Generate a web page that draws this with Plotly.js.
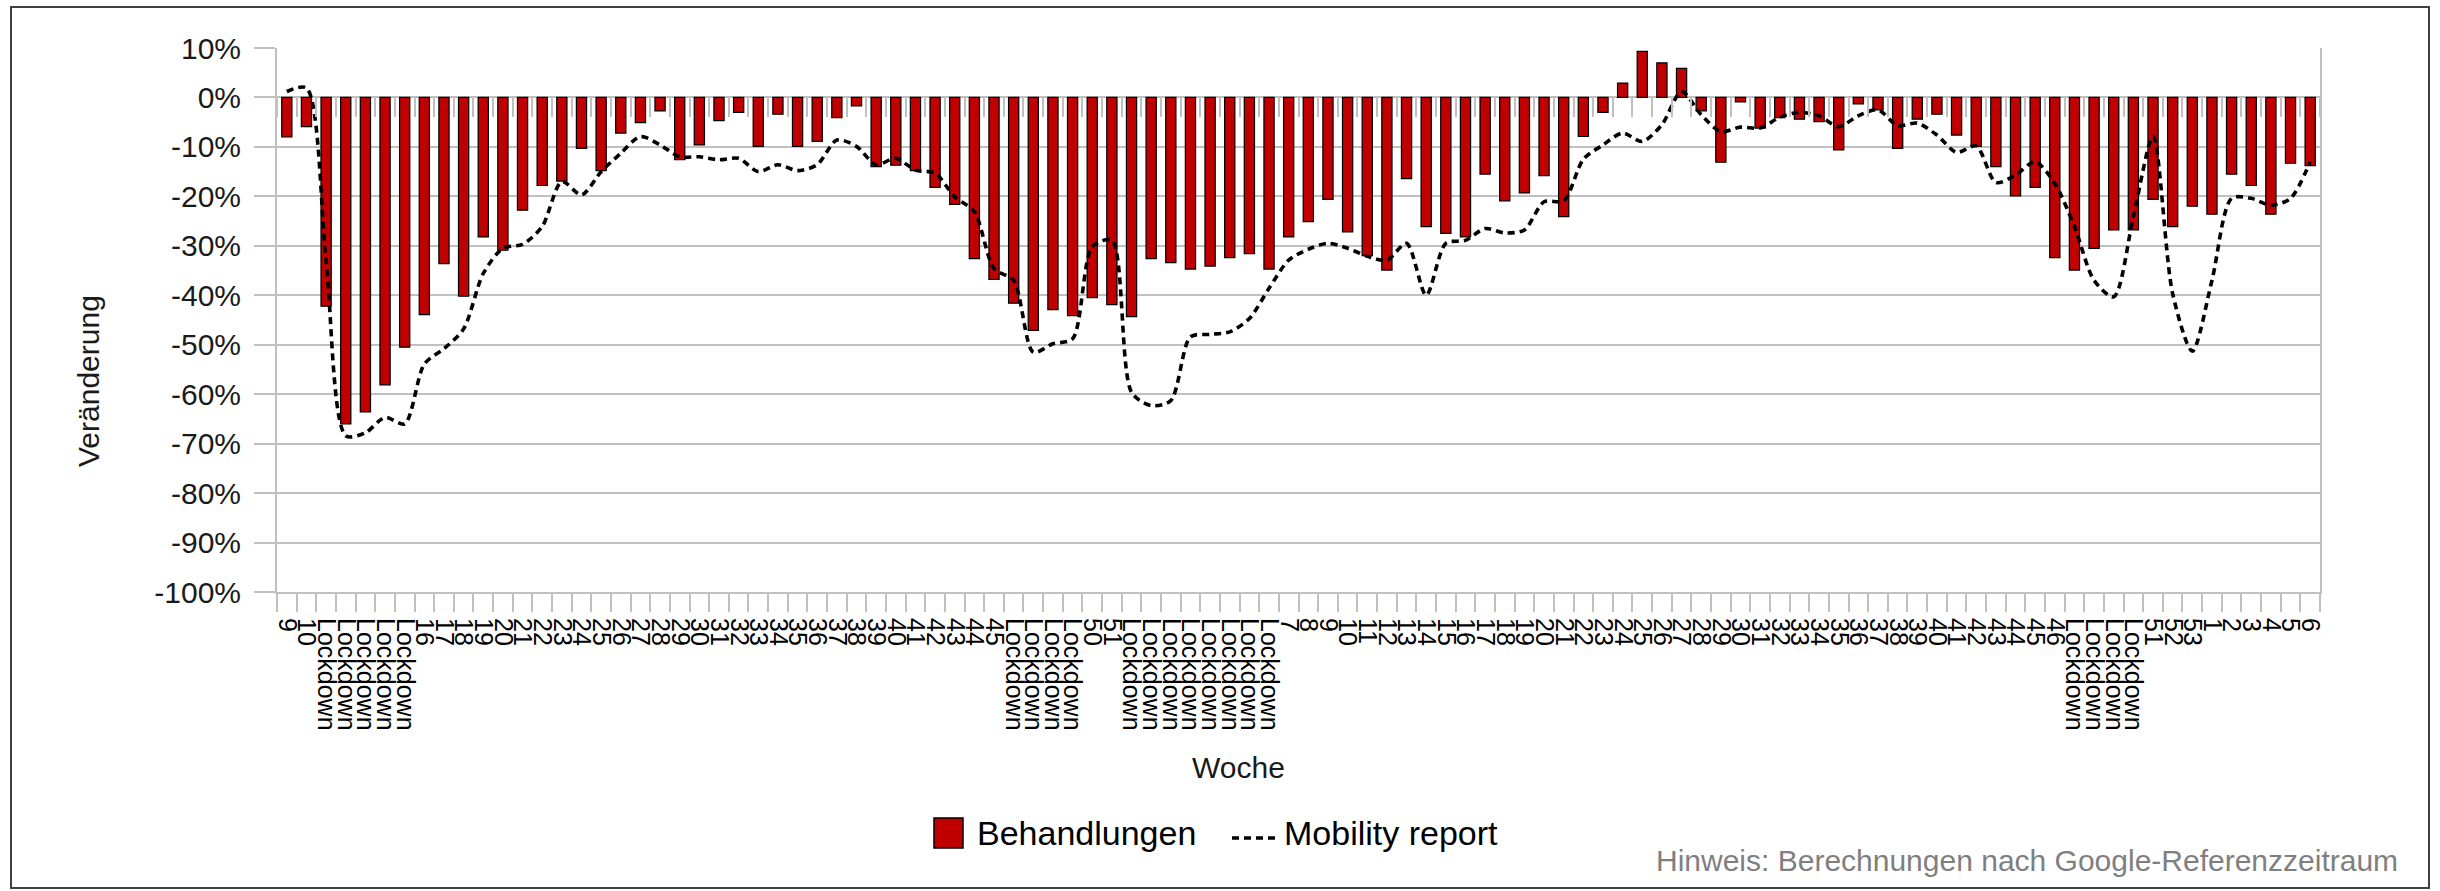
<!DOCTYPE html>
<html>
<head>
<meta charset="utf-8">
<script src="https://cdn.plot.ly/plotly-3.0.1.min.js"></script>
<style>
  body { margin: 0; background: #fff; }
  #chart { width: 2440px; height: 891px; }
  #frame {
    position: absolute; left: 10px; top: 6px; width: 2420px; height: 883px;
    box-sizing: border-box; border: 2px solid #404040; pointer-events: none;
  }
</style>
</head>
<body>
<div id="chart"></div>
<div id="frame"></div>
<script>
// Kalenderwochen (Woche 9/2020 bis Woche 6/2022)
var weeks = [
  '9', '10', 'Lockdown', 'Lockdown', 'Lockdown', 'Lockdown', 'Lockdown',
  '16', '17', '18', '19', '20', '21', '22', '23', '24', '25', '26', '27', '28', '29',
  '30', '31', '32', '33', '34', '35', '36', '37', '38', '39', '40', '41', '42', '43', '44', '45',
  'Lockdown', 'Lockdown', 'Lockdown', 'Lockdown', '50', '51',
  'Lockdown', 'Lockdown', 'Lockdown', 'Lockdown', 'Lockdown', 'Lockdown', 'Lockdown', 'Lockdown',
  '7', '8', '9', '10', '11', '12', '13', '14', '15', '16', '17', '18', '19', '20', '21', '22',
  '23', '24', '25', '26', '27', '28', '29', '30', '31', '32', '33', '34', '35', '36', '37', '38',
  '39', '40', '41', '42', '43', '44', '45', '46',
  'Lockdown', 'Lockdown', 'Lockdown', 'Lockdown', '51', '52', '53', '1', '2', '3', '4', '5', '6'
];

// Veraenderung Behandlungen in %
var behandlungen = [
  -8.0, -5.9, -42.2, -66.0, -63.6, -58.1, -50.5,
  -43.9, -33.6, -40.2, -28.2, -30.9, -22.8, -17.8, -16.9, -10.3, -14.8, -7.2, -5.1, -2.7, -12.6,
  -9.6, -4.7, -3.0, -9.9, -3.4, -9.9, -8.9, -4.1, -1.7, -14.0, -13.7, -14.8, -18.2, -21.6, -32.6, -36.8,
  -41.6, -47.1, -42.9, -44.1, -40.5, -41.9,
  -44.3, -32.6, -33.4, -34.7, -34.1, -32.4, -31.6, -34.7,
  -28.2, -25.1, -20.6, -27.2, -32.0, -34.9, -16.4, -26.1, -27.5, -28.2, -15.5, -20.9, -19.3, -15.8, -24.1, -7.9,
  -3.0, 2.9, 9.3, 7.0, 5.9, -2.7, -13.1, -0.9, -6.2, -4.1, -4.4, -4.9, -10.6, -1.3, -2.5, -10.3,
  -4.4, -3.4, -7.6, -9.9, -14.0, -19.9, -18.2, -32.4,
  -34.9, -30.5, -26.8, -26.8, -20.6, -26.1, -22.0, -23.6, -15.5, -17.8, -23.6, -13.3, -13.8
];

// Google Mobility report in %
var mobility = [
  1.2, 1.9, -33.0, -68.4, -67.8, -64.7, -66.0,
  -53.9, -50.8, -46.8, -35.6, -30.5, -29.7, -26.1, -17.0, -19.7, -15.0, -11.3, -7.9, -9.6, -12.0,
  -12.0, -12.6, -12.3, -15.0, -13.6, -14.8, -13.6, -8.6, -9.9, -13.6, -12.3, -14.7, -15.3, -20.1, -23.1, -34.6,
  -37.0, -51.5, -49.8, -48.8, -30.2, -28.9,
  -59.6, -62.3, -61.3, -48.4, -47.9, -47.4, -44.7, -38.6,
  -32.9, -30.7, -29.5, -30.5, -32.1, -32.9, -29.5, -40.0, -29.5, -28.9, -26.5, -27.4, -26.8, -21.1, -20.9, -12.5,
  -9.6, -7.2, -8.9, -5.5, 1.2, -3.5, -6.9, -6.0, -6.2, -4.0, -3.0, -3.7, -5.9, -3.7, -2.5, -5.7,
  -5.2, -7.6, -11.1, -9.8, -17.2, -15.7, -13.0, -17.4,
  -26.1, -37.0, -40.3, -24.1, -7.9, -39.7, -51.3, -37.0, -20.4, -20.4, -21.8, -20.4, -13.0
];

var yTickVals = [10, 0, -10, -20, -30, -40, -50, -60, -70, -80, -90, -100];
var yTickText = ['10%', '0%', '-10%', '-20%', '-30%', '-40%', '-50%', '-60%', '-70%', '-80%', '-90%', '-100%'];

var idx = weeks.map(function (w, i) { return i; });
var bounds = idx.map(function (i) { return i - 0.5; }).concat([idx.length - 0.5]);

var W = 2440, H = 891;
var M = { l: 277, r: 120, t: 48, b: 299 };
var fontFam = 'Liberation Sans, Arial, sans-serif';
var grey = '#c0c0c0';

// pixel position -> paper coordinates
function px(x) { return (x - M.l) / (W - M.l - M.r); }
function py(y) { return (H - M.b - y) / (H - M.t - M.b); }

var bars = {
  x: idx, y: behandlungen, type: 'bar', name: 'Behandlungen', width: 0.52,
  marker: { color: '#c00000', line: { color: '#000', width: 1.2 } }
};

var line = {
  x: idx, y: mobility, type: 'scatter', mode: 'lines', name: 'Mobility report',
  line: { color: '#000', width: 3.6, dash: '7px,5px', shape: 'spline', smoothing: 0.8 }
};

// empty traces so that the tick-only axes get drawn
var tick2 = { x: [0], y: [null], xaxis: 'x2', type: 'scatter', hoverinfo: 'skip', showlegend: false };
var tick3 = { x: [0], y: [null], xaxis: 'x3', type: 'scatter', hoverinfo: 'skip', showlegend: false };

var tickAxis = {
  overlaying: 'x', range: [-0.5, idx.length - 0.5], tickmode: 'array', tickvals: bounds,
  showticklabels: false, ticks: 'outside', ticklen: 19, tickwidth: 2, tickcolor: grey,
  showgrid: false, showline: false, zeroline: false
};

function note(text, x, y, size, color, xanchor, angle) {
  return {
    text: text, xref: 'paper', yref: 'paper', x: px(x), y: py(y),
    xanchor: xanchor || 'center', yanchor: 'middle', textangle: angle || 0,
    showarrow: false, font: { size: size, color: color }
  };
}

var layout = {
  width: W, height: H, margin: M,
  paper_bgcolor: '#fff', plot_bgcolor: '#fff',
  font: { family: fontFam, color: '#000' },
  showlegend: false,
  xaxis: {
    range: [-0.5, idx.length - 0.5], tickmode: 'array', tickvals: idx, ticktext: weeks,
    tickangle: 90, tickfont: { size: 25, color: '#000' },
    ticks: 'outside', ticklen: 19, tickcolor: 'rgba(0,0,0,0)',
    showgrid: false, zeroline: false, showline: true, linecolor: grey, linewidth: 2
  },
  xaxis2: Object.assign({ anchor: 'y', side: 'bottom' }, tickAxis),
  xaxis3: Object.assign({ anchor: 'free', side: 'bottom', position: 100 / 110 }, tickAxis),
  yaxis: {
    range: [-100, 10], tickmode: 'array', tickvals: yTickVals, ticktext: yTickText,
    tickfont: { size: 30, color: '#1a1a1a' }, ticklabelstandoff: 7,
    ticks: 'outside', ticklen: 21, tickwidth: 2, tickcolor: grey,
    gridcolor: grey, gridwidth: 2, zeroline: false,
    showline: true, linecolor: grey, linewidth: 2, mirror: true
  },
  shapes: [
    { type: 'rect', xref: 'paper', yref: 'paper', x0: px(934), x1: px(963), y0: py(848), y1: py(818),
      fillcolor: '#c00000', line: { color: '#000', width: 1.5 } },
    { type: 'line', xref: 'paper', yref: 'paper', x0: px(1232), x1: px(1279), y0: py(838), y1: py(838),
      line: { color: '#000', width: 3.6, dash: '7px,5px' } }
  ],
  annotations: [
    note('Veränderung', 89, 381, 30, '#1a1a1a', 'center', -90),
    note('Woche', 1238, 767, 30, '#1a1a1a'),
    note('Behandlungen', 975, 833, 34, '#000', 'left'),
    note('Mobility report', 1282, 833, 34, '#000', 'left'),
    note('Hinweis: Berechnungen nach Google-Referenzzeitraum', 2400, 860, 30, '#7f7f7f', 'right')
  ]
};

Plotly.newPlot('chart', [bars, line, tick2, tick3], layout, { displayModeBar: false, staticPlot: true });
</script>
</body>
</html>
